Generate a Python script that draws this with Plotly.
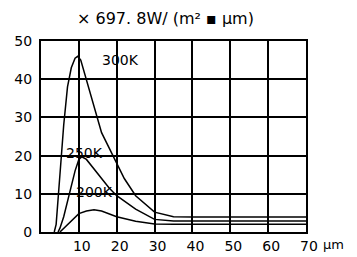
import plotly.graph_objects as go

# Data (wavelength in μm, spectral radiance ×697.8 W/(m²·μm))
x_300 = [3.5, 4, 5, 6, 7, 8, 9, 9.7, 10.5, 12, 14, 16, 19, 22, 25, 30, 35, 40, 70]
y_300 = [0, 2, 15, 28, 38, 43, 45.5, 46, 45, 40, 33, 26, 20, 14, 9.5, 5.2, 4, 3.9, 3.9]

x_250 = [4.5, 5, 6, 7, 8, 9, 10, 10.8, 12, 14, 16, 18, 20, 25, 30, 35, 70]
y_250 = [0, 1, 4, 8, 12, 16, 19, 19.7, 19, 16.5, 14, 11.5, 9.5, 6, 3.3, 2.9, 2.9]

x_200 = [5, 6, 7, 8, 9, 10, 12, 14, 16, 18, 20, 25, 30, 35, 70]
y_200 = [0, 1, 2, 3, 4, 4.8, 5.5, 5.8, 5.5, 4.8, 4, 2.8, 2.1, 2, 2]

curve_labels = ["300K", "250K", "200K"]
label_x = [21, 11.5, 14.2]
label_y = [45, 20.6, 10.6]

x_ticks = [10, 20, 30, 40, 50, 60, 70]
y_ticks = [0, 10, 20, 30, 40, 50]

title_text = "× 697. 8W/ (m² ▪ μm)"
unit_text = "μm"

FONT = "DejaVu Sans"

fig = go.Figure()
for xs, ys in [(x_300, y_300), (x_250, y_250), (x_200, y_200)]:
    fig.add_trace(go.Scatter(x=xs, y=ys, mode="lines",
                             line=dict(color="black", width=1.5),
                             showlegend=False, hoverinfo="skip"))

for t, lx, ly in zip(curve_labels, label_x, label_y):
    fig.add_annotation(x=lx, y=ly, text=t, showarrow=False,
                       font=dict(family=FONT, size=14, color="black"),
                       bgcolor="rgba(0,0,0,0)")

fig.add_annotation(x=70, y=0, text=unit_text, showarrow=False, xref="x", yref="y",
                   xanchor="left", yanchor="top", xshift=15, yshift=-3,
                   font=dict(family=FONT, size=13, color="black"))

fig.add_annotation(x=0.47, y=1, xref="paper", yref="paper", text=title_text,
                   showarrow=False, yanchor="bottom", yshift=11,
                   font=dict(family=FONT, size=16, color="black"))

fig.update_xaxes(range=[0, 70], tickvals=x_ticks, ticktext=[str(v) for v in x_ticks],
                 showgrid=True, gridcolor="black", gridwidth=1.5, automargin=False,
                 showline=True, linecolor="black", linewidth=2, mirror=True,
                 zeroline=False, ticks="", ticklabelshift=3,
                 tickfont=dict(family=FONT, size=14, color="black"))
fig.update_yaxes(range=[0, 50], tickvals=y_ticks, ticktext=[str(v) for v in y_ticks],
                 showgrid=True, gridcolor="black", gridwidth=1.5, automargin=False,
                 showline=True, linecolor="black", linewidth=2, mirror=True,
                 zeroline=False, ticks="", ticklabelstandoff=4,
                 tickfont=dict(family=FONT, size=14, color="black"))

fig.update_layout(width=349, height=249, margin=dict(l=33, r=51, t=33, b=25, autoexpand=False),
                  paper_bgcolor="white", plot_bgcolor="white")

fig.write_html("out.html")
